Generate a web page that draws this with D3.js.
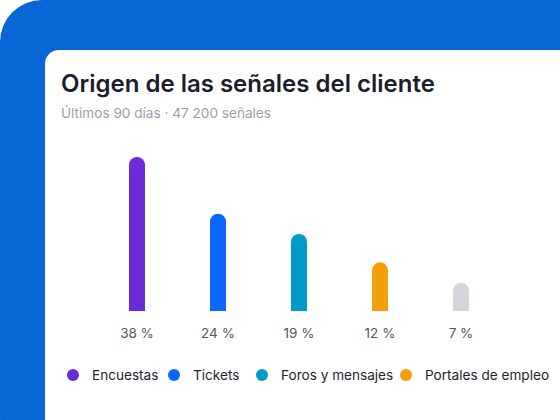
<html>
<head>
  <meta charset="utf-8">
  <script src="https://d3js.org/d3.v7.min.js"></script>
  <style>
    body { margin: 0; background: #fff; }
    svg { display: block; font-family: Inter, "Noto Sans", sans-serif; }
  </style>
</head>
<body>
<script>
  var categories = ['Encuestas', 'Tickets', 'Foros y mensajes', 'Portales de empleo', 'Otros'];
  var shares = [38, 24, 19, 12, 7];
  var colors = ['#6c2bd9', '#0b66ff', '#0399c9', '#f59e0b', '#d3d5da'];

  var svg = d3.select('body').append('svg')
    .attr('width', 560)
    .attr('height', 420);

  // blue backdrop + white card
  svg.append('rect').attr('x', 0).attr('y', 0).attr('width', 600).attr('height', 460)
    .attr('rx', 42).attr('fill', '#0866d6');
  svg.append('rect').attr('x', 45).attr('y', 50).attr('width', 560).attr('height', 420)
    .attr('rx', 14).attr('fill', '#fff');

  svg.append('text').attr('x', 61).attr('y', 92)
    .attr('font-size', 24).attr('font-weight', 600).attr('fill', '#1c1d2b')
    .text('Origen de las señales del cliente');
  svg.append('text').attr('x', 61).attr('y', 118)
    .attr('font-size', 13.6).attr('fill', '#9c9ea6')
    .text('Últimos 90 días · 47 200 señales');

  var x = d3.scalePoint().domain(categories).range([137, 461]);
  var y = d3.scaleLinear().domain([0, 38]).range([311, 157]);
  var bw = 16;

  svg.selectAll('.bar').data(categories).enter().append('path')
    .attr('class', 'bar')
    .attr('fill', function(d, i) { return colors[i]; })
    .attr('d', function(d, i) {
      var x0 = x(d) - bw / 2, top = y(shares[i]), bot = y(0), r = bw / 2;
      return 'M' + x0 + ',' + bot + 'V' + (top + r) +
        'A' + r + ',' + r + ' 0 0 1 ' + (x0 + bw) + ',' + (top + r) +
        'V' + bot + 'Z';
    });

  svg.selectAll('.val').data(categories).enter().append('text')
    .attr('x', function(d) { return x(d); })
    .attr('y', 338)
    .attr('text-anchor', 'middle')
    .attr('font-size', 13.5).attr('fill', '#55575f')
    .text(function(d, i) { return shares[i] + ' %'; });

  // legend: only the entries that fit on the card, at their slot offsets
  var slots = [0, 101, 189, 333];
  var legend = svg.append('g').attr('transform', 'translate(73,375)');
  categories.slice(0, 4).forEach(function(c, i) {
    var g = legend.append('g').attr('transform', 'translate(' + slots[i] + ',0)');
    g.append('circle').attr('r', 6).attr('fill', colors[i]);
    g.append('text').attr('x', 19).attr('y', 5)
      .attr('font-size', 13.6).attr('fill', '#23242f').text(c);
  });
</script>
</body>
</html>
